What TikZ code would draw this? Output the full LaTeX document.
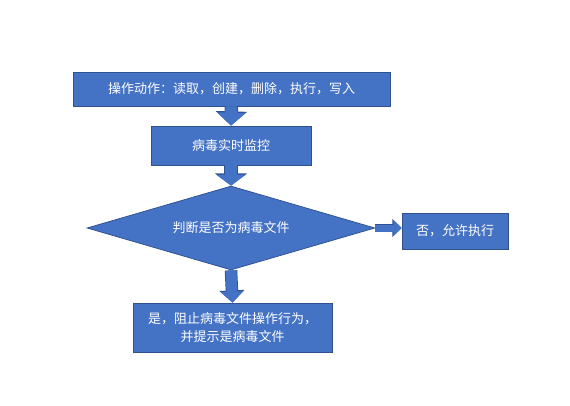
\documentclass[tikz,border=0pt]{standalone}
\usepackage{fontspec}
\setmainfont{Noto Sans CJK SC}
\usetikzlibrary{shapes.geometric,arrows.meta}
\definecolor{flowfill}{HTML}{4472C4}
\definecolor{flowedge}{HTML}{2F528F}
\tikzset{
  flowbox/.style={rectangle,fill=flowfill,draw=flowedge,line width=0.75pt,
    text=white,inner sep=0pt,align=center},
  flowdec/.style={diamond,fill=flowfill,draw=flowedge,line width=0.75pt,
    text=white,inner sep=0pt,shape aspect=3.43},
  blockarrow/.style n args={3}{draw=flowfill,line width=#1,
    -{Triangle[width=#2,length=#3]},
    preaction={draw=flowedge,line width=#1+1.5pt,
      -{Triangle[width=#2+2.5pt,length=#3+1.2pt]}}},
  every picture/.style={font=\fontsize{13}{18}\selectfont}
}
\begin{document}
\begin{tikzpicture}[x=1pt,y=-1pt]
  \useasboundingbox (0,0) rectangle (570,406);
  \node[flowbox,minimum width=317pt,minimum height=34pt] (ops) at (231.5,89)
    {操作动作：读取，创建，删除，执行，写入};
  \node[flowbox,minimum width=160pt,minimum height=39pt] (watch) at (231,145.5)
    {病毒实时监控};
  \node[flowdec,minimum width=288pt,minimum height=84pt] (check) at (231,228)
    {判断是否为病毒文件};
  \node[flowbox,minimum width=106pt,minimum height=36pt] (allow) at (455,231)
    {否，允许执行};
  \node[flowbox,minimum width=199pt,minimum height=49pt] (block) at (232.5,327.5)
    {是，阻止病毒文件操作行为，\\并提示是病毒文件};
  \draw[blockarrow={12pt}{28pt}{13pt}] (ops.south) -- (watch.north);
  \draw[blockarrow={12pt}{29pt}{11pt}] (watch.south) -- (check.north);
  \draw[blockarrow={7pt}{15pt}{8pt}] (check.east) -- (check.east -| allow.west);
  \draw[blockarrow={11pt}{22pt}{11pt}] (check.south) -- (block.north);
\end{tikzpicture}
\end{document}
